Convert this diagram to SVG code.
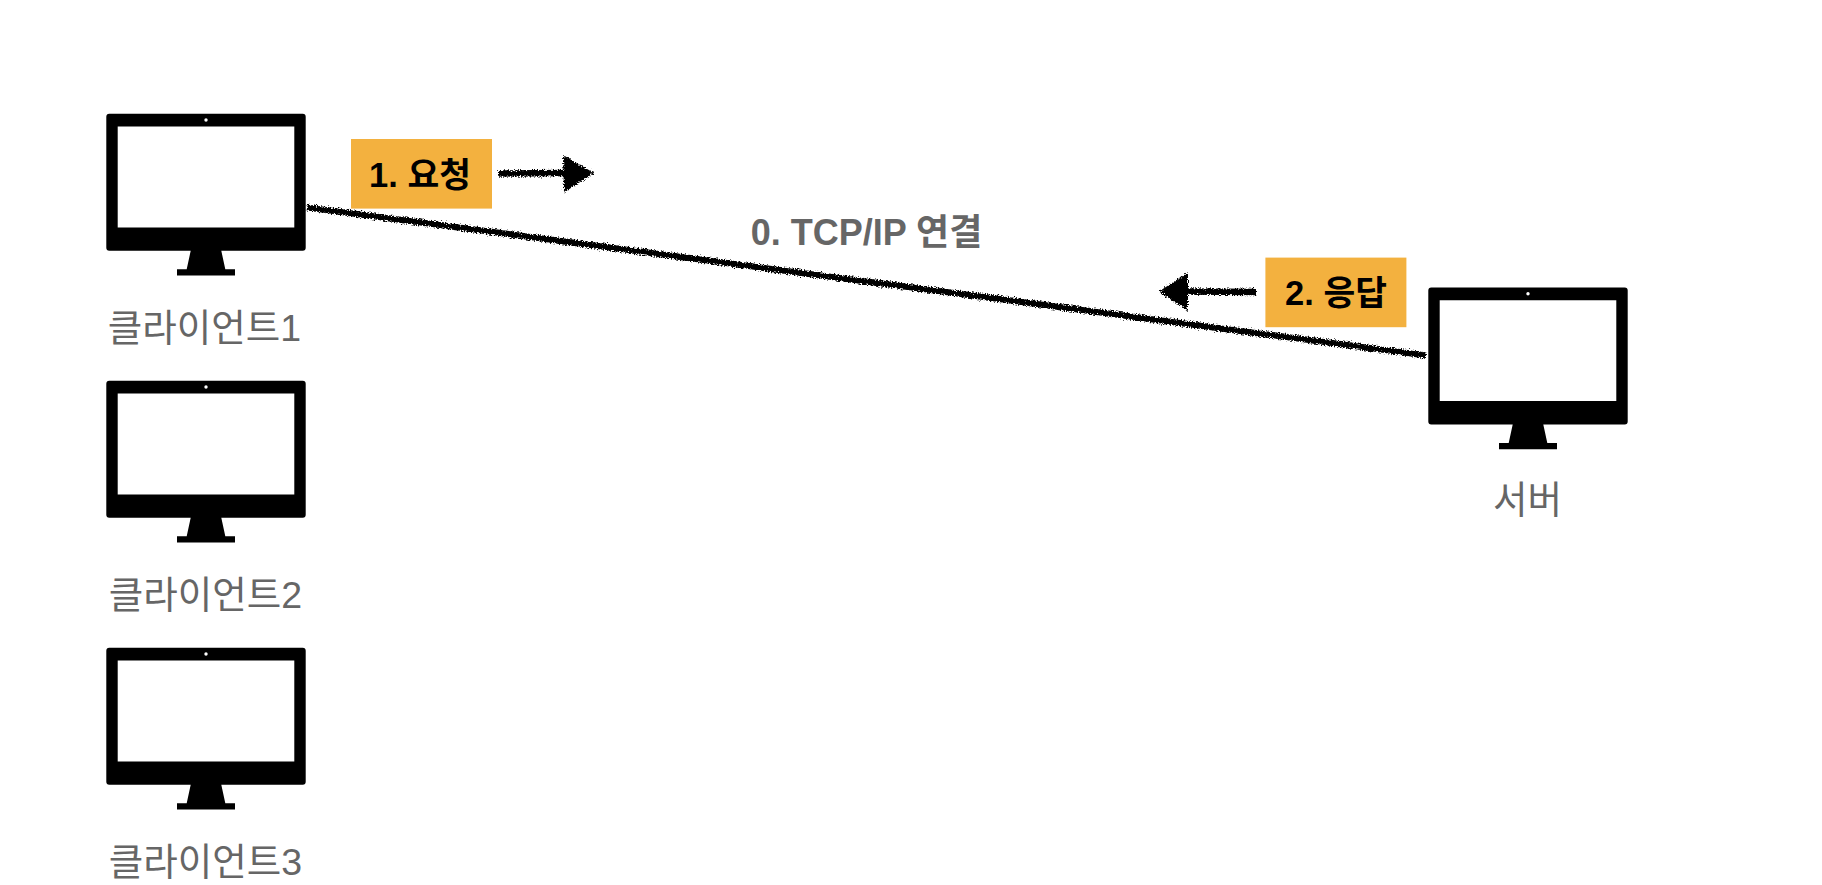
<svg xmlns="http://www.w3.org/2000/svg" width="1822" height="885" viewBox="0 0 1822 885">
<style>
text{font-family:"Liberation Sans","Noto Sans CJK KR",sans-serif}
.lbl{font-size:37.5px;fill:#666;text-anchor:middle}
.tag{font-size:34.5px;font-weight:700;fill:#000;text-anchor:middle}
.box{fill:#F3B13F}
.rough{fill:none;stroke:#000;stroke-linecap:butt}
</style>
<defs>
<filter id="chalk" filterUnits="userSpaceOnUse" x="0" y="0" width="1822" height="885">
<feTurbulence type="fractalNoise" baseFrequency="0.7" numOctaves="3" seed="4" result="n"/>
<feDisplacementMap in="SourceGraphic" in2="n" scale="5.5" xChannelSelector="R" yChannelSelector="G"/>
</filter>
<g id="monitor">
<path fill-rule="evenodd" d="M109.3 113.8H302.7a3 3 0 0 1 3 3V247.8a3 3 0 0 1-3 3H221.3L225.3 269.2H235V275.5H177V269.2H186.7L190.7 250.8H109.3a3 3 0 0 1-3-3V116.8a3 3 0 0 1 3-3ZM117.7 126.6V227.4H294.3V126.6Z"/>
<circle cx="206" cy="120" r="1.7" fill="#fff"/>
</g>
</defs>
<rect width="1822" height="885" fill="#fff"/>
<g id="connectors" filter="url(#chalk)">
<path class="rough" stroke-width="6.2" d="M307 207.5L1426 355.5"/>
<path class="rough" stroke-width="6.4" d="M498 173.5L566 173"/>
<path d="M563 155L594 173L564 192.5Z"/>
<path class="rough" stroke-width="6.4" d="M1256 292L1186 291.5"/>
<path d="M1159 291.5L1188 272.5L1188 311Z"/>
</g>
<g id="client1"><use href="#monitor"/><text class="lbl" x="204.5" y="341">클라이언트1</text></g>
<g id="client2"><use href="#monitor" y="267"/><text class="lbl" x="205.5" y="608">클라이언트2</text></g>
<g id="client3"><use href="#monitor" y="534"/><text class="lbl" x="205.5" y="875">클라이언트3</text></g>
<g id="server"><use href="#monitor" x="1322" y="173.7"/><text class="lbl" x="1527.5" y="513">서버</text></g>
<g id="request"><rect class="box" x="351" y="139" width="141" height="69.6"/><text class="tag" x="420" y="187">1. 요청</text></g>
<g id="response"><rect class="box" x="1265.4" y="257.6" width="141" height="69.6"/><text class="tag" x="1336" y="305">2. 응답</text></g>
<g id="tcp"><text x="866.5" y="244.5" font-size="36" font-weight="700" fill="#666" text-anchor="middle">0. TCP/IP 연결</text></g>
</svg>
